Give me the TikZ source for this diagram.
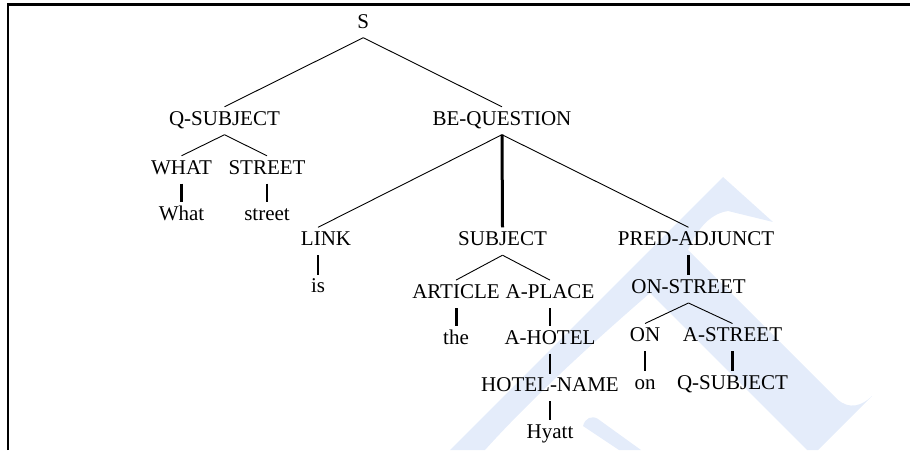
\documentclass[tikz,border=0pt]{standalone}
\usepackage{fontspec}
\setmainfont{Liberation Serif}
\usetikzlibrary{calc}
\definecolor{wmblue}{RGB}{228,236,250}
\begin{document}
\begin{tikzpicture}[x=1pt,y=-1pt,
  lab/.style={anchor=base, inner xsep=0pt, inner ysep=4pt,
    text height=14pt, text depth=5.5pt, font=\fontsize{21}{25}\selectfont},
  br/.style={line width=0.9pt},
  st/.style={line width=2.2pt},
  stt/.style={line width=3pt},
  frame/.style={line width=2.3pt}]
\useasboundingbox (0,0) rectangle (910,450);

% faint logo in the background
\fill[wmblue] (450,450) -- (723,177) -- (773,222) -- (728,211)
  .. controls (708,214) and (696,232) .. (688,250) -- (837,399)
  .. controls (849,410) and (862,406) .. (872,396) -- (818,450) -- (807,450)
  -- (650,293) .. controls (590,345) and (530,400) .. (485,450) -- cycle;
\fill[wmblue] (583,426) .. controls (585,418) and (592,415) .. (598,419)
  -- (641,450) -- (619,450) -- cycle;

% frame
\draw[frame] (7.8,450) -- (7.8,4.5) -- (910,4.5);

% tree labels
\node[lab] (s) at (363.3,28) {S};
\node[lab] (qs) at (224.5,125) {Q-SUBJECT};
\node[lab] (bq) at (502,125) {BE-QUESTION};
\node[lab] (what) at (181.5,174) {WHAT};
\node[lab] (street) at (267,174) {STREET};
\node[lab] (whatw) at (181.5,220) {What};
\node[lab] (streetw) at (267,220) {street};
\node[lab] (link) at (326,245.5) {LINK};
\node[lab] (subj) at (502.5,245.5) {SUBJECT};
\node[lab] (pred) at (696,245.5) {PRED-ADJUNCT};
\node[lab] (is) at (318,292.7) {is};
\node[lab] (art) at (456,298.3) {ARTICLE};
\node[lab] (aplace) at (550,298.3) {A-PLACE};
\node[lab] (onst) at (688.5,293.3) {ON-STREET};
\node[lab] (the) at (456,344) {the};
\node[lab] (ahotel) at (550,344) {A-HOTEL};
\node[lab] (on) at (645,341.7) {ON};
\node[lab] (astreet) at (732.5,341.7) {A-STREET};
\node[lab] (hname) at (550,391.7) {HOTEL-NAME};
\node[lab] (onw) at (645,389.3) {on};
\node[lab] (qs2) at (732.5,389.3) {Q-SUBJECT};
\node[lab] (hyatt) at (550,438.3) {Hyatt};

% branches
\draw[br] (s.south) -- (qs.north);
\draw[br] (s.south) -- (bq.north);
\draw[br] (qs.south) -- (what.north);
\draw[br] (qs.south) -- (street.north);
\draw[st] (what.south) -- (whatw.north);
\draw[st] (street.south) -- (streetw.north);
\draw[br] (bq.south) -- ([xshift=-8pt]link.north);
\draw[stt] (bq.south) -- (subj.north);
\draw[br] (bq.south) -- ([xshift=-7.5pt]pred.north);
\draw[st] ([xshift=-8pt]link.south) -- (is.north);
\draw[br] (subj.south) -- (art.north);
\draw[br] (subj.south) -- (aplace.north);
\draw[stt] (art.south) -- (the.north);
\draw[st] (aplace.south) -- (ahotel.north);
\draw[st] (ahotel.south) -- (hname.north);
\draw[st] (hname.south) -- (hyatt.north);
\draw[st] ([xshift=-7.5pt]pred.south) -- (onst.north);
\draw[br] (onst.south) -- (on.north);
\draw[br] (onst.south) -- (astreet.north);
\draw[st] (on.south) -- (onw.north);
\draw[st] (astreet.south) -- (qs2.north);
\end{tikzpicture}
\end{document}
